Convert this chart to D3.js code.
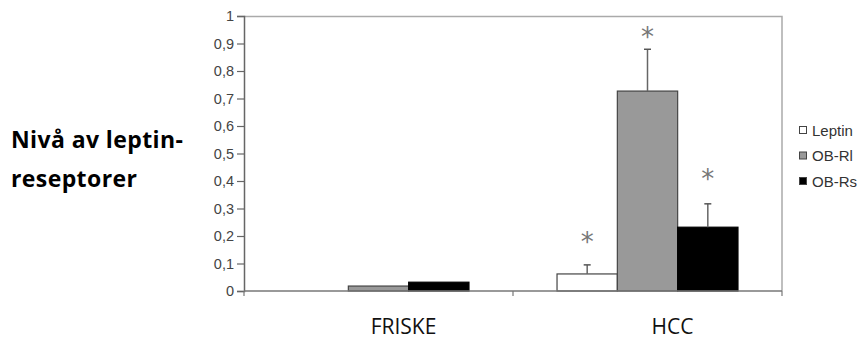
<!DOCTYPE html>
<html>
<head>
<meta charset="utf-8">
<script src="https://cdn.jsdelivr.net/npm/d3@7"></script>
<style>
  body { margin: 0; background: #fff; }
</style>
</head>
<body>
<div id="chart"></div>
<script>
var width = 858;
var height = 341;

// data
var categories = ["FRISKE", "HCC"];
var seriesNames = ["Leptin", "OB-Rl", "OB-Rs"];
var seriesFill = ["#ffffff", "#999999", "#000000"];
var leptin = [0, 0.062];
var obRl   = [0.018, 0.727];
var obRs   = [0.032, 0.232];
var errHcc = [0.033, 0.152, 0.085];
var starHcc = [0.185, 0.931, 0.415];
var yTicks = [0, 0.1, 0.2, 0.3, 0.4, 0.5, 0.6, 0.7, 0.8, 0.9, 1];

var margin = {top: 16, left: 244, right: 76, bottom: 50};
var plotW = width - margin.left - margin.right;
var plotH = height - margin.top - margin.bottom;

var svg = d3.select("#chart").append("svg")
    .attr("width", width)
    .attr("height", height);

var g = svg.append("g")
    .attr("transform", "translate(" + margin.left + "," + margin.top + ")");

var x0 = d3.scaleBand().domain(categories).range([0, plotW]).paddingInner(0).paddingOuter(0);
var x1 = d3.scaleBand().domain(seriesNames).range([0, x0.bandwidth()]).paddingOuter(0.73).paddingInner(0);
var y = d3.scaleLinear().domain([0, 1]).range([plotH, 0]);

// plot frame (top / right)
g.append("path")
  .attr("d", "M0,0.5H" + plotW + "V" + plotH)
  .attr("fill", "none")
  .attr("stroke", "#aaa")
  .attr("stroke-width", 1.5);

var rows = categories.map(function(c, i) {
  return {cat: c, values: [leptin[i], obRl[i], obRs[i]]};
});

var groups = g.selectAll("g.grp").data(rows).enter().append("g")
  .attr("class", "grp")
  .attr("transform", function(d) { return "translate(" + x0(d.cat) + ",0)"; });

groups.selectAll("rect").data(function(d) {
    return d.values.map(function(v, j) { return {name: seriesNames[j], v: v, j: j}; });
  })
  .enter().append("rect")
  .filter(function(d) { return d.v > 0; })
  .attr("x", function(d) { return x1(d.name); })
  .attr("y", function(d) { return y(d.v); })
  .attr("width", x1.bandwidth())
  .attr("height", function(d) { return plotH - y(d.v); })
  .attr("fill", function(d) { return seriesFill[d.j]; })
  .attr("stroke", function(d) { return d.j == 2 ? "#000" : "#444"; })
  .attr("stroke-width", 1.2);

// error bars + asterisks for HCC
var hcc = rows[1];
var eg = g.append("g").attr("transform", "translate(" + x0("HCC") + ",0)");
hcc.values.forEach(function(v, j) {
  var cx = x1(seriesNames[j]) + x1.bandwidth() / 2;
  eg.append("line")
    .attr("x1", cx).attr("x2", cx)
    .attr("y1", y(v)).attr("y2", y(v + errHcc[j]))
    .attr("stroke", "#666").attr("stroke-width", 1.5);
  eg.append("line")
    .attr("x1", cx - 3.5).attr("x2", cx + 3.5)
    .attr("y1", y(v + errHcc[j])).attr("y2", y(v + errHcc[j]))
    .attr("stroke", "#555").attr("stroke-width", 1.5);
  eg.append("text")
    .attr("x", cx)
    .attr("y", y(starHcc[j]) + 11)
    .attr("text-anchor", "middle")
    .attr("font-family", "DejaVu Sans")
    .attr("font-size", 26)
    .attr("fill", "#777")
    .text("*");
});

// y axis
var yAxis = g.append("g")
  .call(d3.axisLeft(y).tickValues(yTicks).tickSize(7).tickPadding(3)
    .tickFormat(function(d) { return d3.format("")(d).replace(".", ","); }));
yAxis.select(".domain").attr("stroke", "#666").attr("stroke-width", 1.5);
yAxis.selectAll(".tick line").attr("stroke", "#666").attr("stroke-width", 1.2);
yAxis.selectAll("text")
  .attr("font-family", "Liberation Sans, Arial, sans-serif")
  .attr("font-size", 14.5)
  .attr("fill", "#444");

// x axis: baseline + category separators
var xAxis = g.append("g").attr("transform", "translate(0," + plotH + ")");
xAxis.append("line")
  .attr("x1", 0).attr("x2", plotW)
  .attr("stroke", "#777").attr("stroke-width", 1.5);
xAxis.selectAll("line.sep").data([0, plotW / 2, plotW]).enter().append("line")
  .attr("class", "sep")
  .attr("x1", function(d) { return d; }).attr("x2", function(d) { return d; })
  .attr("y1", 0).attr("y2", 5)
  .attr("stroke", "#777").attr("stroke-width", 1.2);

xAxis.selectAll("text.cat").data(categories).enter().append("text")
  .attr("class", "cat")
  .attr("x", function(d) { return x0(d) + x0.bandwidth() / 2 + 25; })
  .attr("y", 43)
  .attr("text-anchor", "middle")
  .attr("font-family", "Open Sans")
  .attr("font-size", 21)
  .attr("fill", "#111")
  .text(function(d) { return d; });

// legend
var legend = svg.append("g").attr("transform", "translate(799,130)");
var li = legend.selectAll("g").data(seriesNames).enter().append("g")
  .attr("transform", function(d, i) { return "translate(0," + i * 25.5 + ")"; });
li.append("rect")
  .attr("x", 0.5).attr("y", -3.5)
  .attr("width", 7).attr("height", 7)
  .attr("fill", function(d, i) { return seriesFill[i]; })
  .attr("stroke", "#444");
li.append("text")
  .attr("x", 13).attr("y", 5.5)
  .attr("font-family", "Liberation Sans, Arial, sans-serif")
  .attr("font-size", 15)
  .attr("fill", "#333")
  .text(function(d) { return d; });

// y title
var title = svg.append("text")
  .attr("x", 11)
  .attr("font-family", "Open Sans")
  .attr("font-weight", "bold")
  .attr("font-size", 23)
  .attr("letter-spacing", 0.4)
  .attr("fill", "#000");
title.append("tspan").attr("x", 11).attr("y", 148).text("Nivå av leptin-");
title.append("tspan").attr("x", 11).attr("y", 187).text("reseptorer");
</script>
</body>
</html>
